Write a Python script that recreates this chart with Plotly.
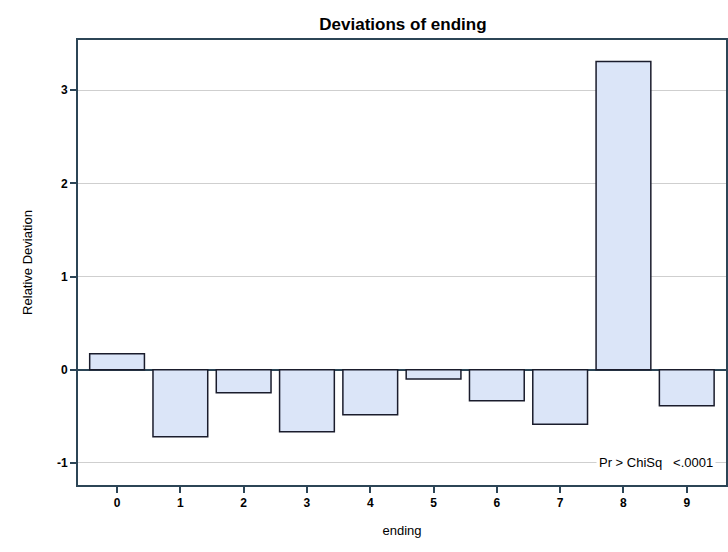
import plotly.graph_objects as go

categories = ["0", "1", "2", "3", "4", "5", "6", "7", "8", "9"]
deviation = [0.172, -0.72, -0.248, -0.667, -0.484, -0.10, -0.334, -0.585, 3.31, -0.388]
y_ticks = [-1, 0, 1, 2, 3]

AX = "#2c4556"
FONT = "Liberation Sans, Arial, sans-serif"

fig = go.Figure()
fig.add_trace(go.Bar(
    x=list(range(len(categories))),
    y=deviation,
    width=0.865,
    marker=dict(color="#dbe5f8", line=dict(color="#1a1c2c", width=1.5)),
    showlegend=False,
))

fig.update_layout(
    width=728, height=552,
    margin=dict(l=78, r=0, t=40, b=67),
    paper_bgcolor="white", plot_bgcolor="white",
    title=dict(text="<b>Deviations of ending</b>", x=0.5535, xanchor="center",
               y=1 - 24 / 552, yanchor="middle",
               font=dict(family=FONT, size=17, color="black")),
    xaxis=dict(
        range=[-0.617, 9.62],
        tickmode="array", tickvals=list(range(len(categories))), ticktext=categories,
        ticks="outside", ticklen=6, tickcolor=AX, tickwidth=1.5,
        showline=True, linecolor=AX, linewidth=2, mirror=True,
        showgrid=False, zeroline=False,
        tickfont=dict(family=FONT, size=12, color="black", weight="bold"),
        title=dict(text="ending", font=dict(family=FONT, size=13, color="black"), standoff=16),
    ),
    yaxis=dict(
        range=[-1.238, 3.54],
        tickmode="array", tickvals=y_ticks, ticktext=[str(v) for v in y_ticks],
        ticks="outside", ticklen=6, tickcolor=AX, tickwidth=1.5,
        showline=True, linecolor=AX, linewidth=2, mirror=True,
        showgrid=True, gridcolor="#cfcfcf", gridwidth=1,
        zeroline=True, zerolinecolor=AX, zerolinewidth=1.5,
        tickfont=dict(family=FONT, size=12, color="black", weight="bold"),
        title=dict(text="Relative Deviation", font=dict(family=FONT, size=13, color="black"), standoff=21),
    ),
    annotations=[dict(
        text="Pr > ChiSq   <.0001", xref="paper", yref="y",
        x=0.985, y=-1.0, xanchor="right", yanchor="middle",
        showarrow=False, bgcolor="white", borderpad=2,
        font=dict(family=FONT, size=13, color="black"),
    )],
)

fig.write_html("out.html")
